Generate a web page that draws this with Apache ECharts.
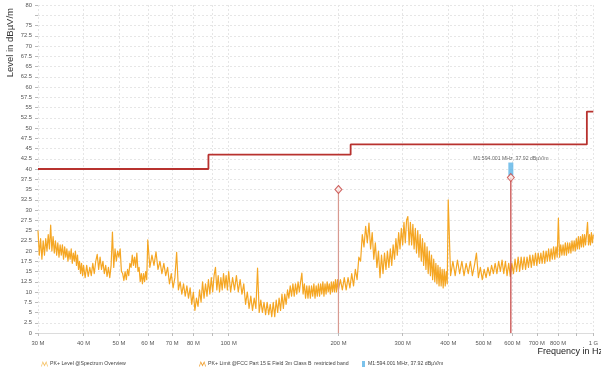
<!DOCTYPE html>
<html>
<head>
<meta charset="utf-8">
<script src="https://cdn.jsdelivr.net/npm/echarts@6/dist/echarts.min.js"></script>
<style>
  html, body { margin: 0; padding: 0; background: #fff; }
  #chart { width: 601px; height: 368px; }
</style>
</head>
<body>
<div id="chart"></div>
<script>
// PK+ level sweep in six sub-bands: first point (MHz), step (MHz), levels (dBµV/m)
const band30to40 = { firstMHz: 30, stepMHz: 0.25, levels: [
  25,19,23,18,22.5,19,23,20,24,20.5,26.3,20,23.5,19.5,22.5,19,22,18.5,21.5,19,
  21.5,18,21,18.5,20.5,17.5,20,18,20.5,17,19.5,17.5,20,16.5,19,15.5,17.5,14.5,17,14,16.5
]};
const band40to60 = { firstMHz: 40.4, stepMHz: 0.4, levels: [
  13.5,16.5,13.8,16,14,17,14.5,17.5,19.2,15.5,18.5,15.5,17.5,14.5,16.5,13.8,16,13.5,16.5,24.6,
  16,20.5,17.5,20,18.5,20.5,15,14.5,12.8,15,13,15.5,14,17,16,19,16.5,18.5,16,19.5,
  15,16,12.5,14.5,12,14.5,12.5,15,13,22.7
]};
const band60to100 = { firstMHz: 60.8, stepMHz: 0.8, levels: [
  16,19,16.5,19.8,15.5,17.5,14.5,17,14,16,12,14.5,11,13.5,19.7,10.5,12.5,9.5,12,9,
  11.5,8.5,11,7,10,5.5,8.5,6.5,10.5,7.5,12.5,8.5,12,9,13,9.5,13.5,10,14,16,
  10.5,14,10,13.5,10.5,14.5,11,14,10.5,15
]};
const band100to200 = { firstMHz: 101.25, stepMHz: 1.25, levels: [
  10,13.5,10.5,14,10,13,9.5,12,7,10,6,9,5.5,8.5,6,15.8,5,8,5,7.5,
  4.5,7.5,4.5,7,4,7.5,4,8,5,8.5,5.5,9.5,6,9.5,7,10.5,8.5,11.5,9,12,
  9,12,9.5,12.5,10,12.5,14.6,9.5,12,8.5,11.5,8.5,11.5,8.5,11.5,9,12,8.5,11.5,9,
  12,9,12,9.5,12.5,9,12,9.5,12.5,10,12,9.5,12.5,10,12.5,10,13,10,13,10.5
]};
const band200to400 = { firstMHz: 202.5, stepMHz: 2.5, levels: [
  13,10.5,13.5,10.5,13.5,11,14.5,11.5,15.5,13,18.5,17.5,24,21,26,22,26.8,20.5,24.5,18,
  22,16,20,13.5,19,14.5,19.5,15.5,20,16,20.5,16.5,21.5,18,23,19,24.5,20.5,25.5,21.5,
  27,22,27.5,28.4,21.5,27,21.5,26.5,20.5,25.5,19.5,25,18.5,24,17.5,23,16.5,22,15.5,21,
  14.5,20,14,19,13,18,12.5,17,12,16.5,11.5,16,11.5,15.5,11,15.5,11.5,15,12,32.5
]};
const band400to1000 = { firstMHz: 406, stepMHz: 6, levels: [
  14,17.5,14,17.8,14.5,17.5,14,17,14.5,17.5,14,16.5,19.5,13.5,16,13,15.5,13.5,16,14,
  16.5,14.5,17,14.5,17.5,15,17.8,14.5,17.5,14,17,13.8,17,14.5,18,15,18.5,15,18.5,15.5,
  18.5,15.5,18.5,16,19,16,19,16.5,19.5,16.5,19.5,17,19.5,17,20,17,20,17.5,20.5,17.5,
  20.5,18,21,18,21,18.5,28,18.5,21.5,19,21.5,19,22,19,22,19.5,22,19.5,22.5,20,
  22.5,20,23,20.5,23.5,20.5,23.5,21,24,21,24,21.5,24,27,21.5,24,21.5,24.5,22,24
]};

// FCC Part 15 radiated limit (3 m), [MHz, dBµV/m]
const limitSteps = [[30,40],[88,40],[88,43.5],[216,43.5],[216,46],[960,46],[960,54],[1000,54]];

// markers: D1 at 200 MHz, M1 at 594.001 MHz, [MHz, dBµV/m]
const deltaMarker = [200, 35];
const m1Marker = [594.001, 37.92];

// axis ticks
const freqTicksMHz = [30,40,50,60,70,80,90,100,200,300,400,500,600,700,800,900,1000];
const freqLabelsMHz = [30,40,50,60,70,80,100,200,300,400,500,600,700,800,1000];
const levelLabels = [0,2.5,5,7.5,10,12.5,15,17.5,20,22.5,25,27.5,30,32.5,35,37.5,40,42.5,45,47.5,50,52.5,55,57.5,60,62.5,65,67.5,70,72.5,75,80];

const LEVEL_NAME = 'PK+ Level @Spectrum Overview';
const LIMIT_NAME = 'PK+ Limit @FCC Part 15 E Field 3m Class B  restricted band';
const M1_NAME = 'M1:594.001 MHz, 37.92 dBµV/m';

const toHz = p => [p[0] * 1e6, p[1]];
// expand each sub-band's sweep grid into [Hz, level] points
const bandPoints = b => b.levels.map((lv, i) => [(b.firstMHz + b.stepMHz * i) * 1e6, lv]);
const traceHz = [band30to40, band40to60, band60to100, band100to200, band200to400, band400to1000]
  .reduce((acc, b) => acc.concat(bandPoints(b)), []);

const FONT = 'Liberation Sans';
const waveIcon = 'path://M0,9 L2.5,1 L5,6 L7.5,1 L10,9 L8.8,9 L7.5,4 L5,9 L2.5,4 L1.2,9 Z';

const chart = echarts.init(document.getElementById('chart'), null, { renderer: 'canvas' });

chart.setOption({
  animation: false,
  backgroundColor: '#ffffff',
  textStyle: { fontFamily: FONT },
  grid: { left: 38, right: 1, top: 5, bottom: 35, containLabel: false },
  xAxis: {
    type: 'log',
    logBase: 10,
    min: 30e6,
    max: 1e9,
    axisLine: { show: true, lineStyle: { color: '#dcdcdc', width: 1 } },
    axisTick: {
      show: true, length: 3, lineStyle: { color: '#bbbbbb' },
      customValues: freqTicksMHz.map(v => v * 1e6)
    },
    minorTick: { show: false },
    axisLabel: {
      customValues: freqLabelsMHz.map(v => v * 1e6),
      fontSize: 5.8, color: '#555', margin: 7, fontFamily: FONT,
      formatter: v => v >= 1e9 ? Math.round(v / 1e9) + ' G' : Math.round(v / 1e6) + ' M'
    },
    splitLine: { show: true, lineStyle: { color: '#e6e6e6', type: [2, 2], width: 1 } }
  },
  yAxis: {
    type: 'value',
    min: 0,
    max: 80,
    interval: 2.5,
    axisLine: { show: false },
    axisTick: { show: true, length: 3, lineStyle: { color: '#bbbbbb' } },
    axisLabel: {
      customValues: levelLabels,
      fontSize: 5.8, color: '#555', margin: 6, fontFamily: FONT
    },
    splitLine: { show: true, lineStyle: { color: '#e6e6e6', type: [2, 2], width: 1 } }
  },
  graphic: [
    {
      type: 'text', left: 5, top: 8, rotation: Math.PI / 2,
      style: { text: 'Level in dBµV/m', fontSize: 9.5, fill: '#333', fontFamily: FONT }
    },
    {
      type: 'text', right: -2, top: 347,
      style: { text: 'Frequency in Hz', fontSize: 9, fill: '#222', fontFamily: FONT }
    }
  ],
  legend: [
    {
      left: 41, top: 361, itemWidth: 7, itemHeight: 6, itemGap: 0, padding: 0,
      textStyle: { fontSize: 5.2, color: '#444', fontFamily: FONT, padding: [0, 0, 0, -3] },
      data: [{ name: LEVEL_NAME, icon: waveIcon, itemStyle: { color: '#f6c46b' } }]
    },
    {
      left: 199, top: 361, itemWidth: 7, itemHeight: 6, itemGap: 0, padding: 0,
      textStyle: { fontSize: 5.2, color: '#444', fontFamily: FONT, padding: [0, 0, 0, -3] },
      data: [{ name: LIMIT_NAME, icon: waveIcon, itemStyle: { color: '#f0a030' } }]
    },
    {
      left: 362, top: 361, itemWidth: 3, itemHeight: 6, itemGap: 0, padding: 0,
      textStyle: { fontSize: 5.2, color: '#444', fontFamily: FONT, padding: [0, 0, 0, -2] },
      data: [{ name: M1_NAME, icon: 'rect', itemStyle: { color: '#5ab3e6' } }]
    }
  ],
  series: [
    {
      name: LEVEL_NAME,
      type: 'line',
      data: traceHz,
      showSymbol: false,
      symbol: 'none',
      sampling: null,
      z: 2,
      itemStyle: { color: '#f5a623' },
      lineStyle: { color: '#f5a623', width: 1.2, join: 'round' }
    },
    {
      name: LIMIT_NAME,
      type: 'line',
      data: limitSteps.map(toHz),
      symbol: 'none',
      z: 3,
      itemStyle: { color: '#b8322f' },
      lineStyle: { color: '#b8322f', width: 1.8 }
    },
    {
      name: 'D1 line',
      type: 'line',
      data: [[deltaMarker[0] * 1e6, 0], [deltaMarker[0] * 1e6, deltaMarker[1]]],
      symbol: 'none',
      z: 4,
      lineStyle: { color: '#d89a90', width: 1.2 }
    },
    {
      name: 'M1 line',
      type: 'line',
      data: [[m1Marker[0] * 1e6, 0], [m1Marker[0] * 1e6, m1Marker[1]]],
      symbol: 'none',
      z: 4,
      lineStyle: { color: '#c4413f', width: 1.2 }
    },
    {
      name: 'marker points',
      type: 'scatter',
      data: [deltaMarker, m1Marker].map(toHz),
      symbol: 'diamond',
      symbolSize: [7, 8],
      z: 6,
      itemStyle: { color: '#fbe9e6', borderColor: '#c4413f', borderWidth: 1 }
    },
    {
      name: M1_NAME,
      type: 'scatter',
      data: [toHz(m1Marker)],
      symbol: 'rect',
      symbolSize: [5, 13],
      symbolOffset: [0, -8.5],
      z: 5,
      itemStyle: { color: '#5ab3e6' },
      label: {
        show: true,
        position: 'top',
        distance: 1,
        formatter: M1_NAME,
        fontSize: 5.2,
        color: '#444',
        fontFamily: FONT
      }
    }
  ]
});
</script>
</body>
</html>
